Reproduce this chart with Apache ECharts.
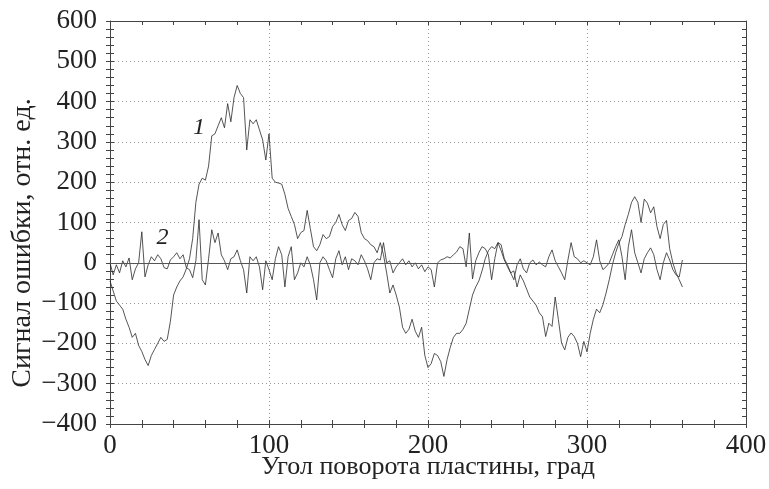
<!DOCTYPE html>
<html><head><meta charset="utf-8">
<script src="https://cdn.jsdelivr.net/npm/echarts@6/dist/echarts.min.js"></script>
<style>html,body{margin:0;padding:0;background:#fff}#c{width:769px;height:489px}</style>
</head><body><div id="c"></div>
<script>
// sampling step of the recorded angle, degrees
const angleStep = 2;
// curve 1 (large wave), one value per 2 degrees from 0 to 360
const curve1 = [
 -45,-70,-95,-105,-115,-140,-160,-185,-175,-205,
 -220,-240,-255,-230,-215,-200,-185,-195,-190,-145,
 -80,-60,-45,-35,-15,10,60,150,195,210,
 205,240,315,320,340,360,335,395,350,410,
 440,420,410,280,355,345,355,330,305,255,
 320,210,200,198,195,170,135,115,95,60,
 75,80,130,85,40,30,45,70,60,65,
 90,100,120,95,80,105,110,125,115,75,
 60,55,45,40,25,50,20,-25,-75,-55,
 -80,-110,-160,-175,-165,-140,-170,-185,-160,-230,
 -260,-250,-225,-230,-245,-282,-240,-210,-185,-175,
 -175,-165,-150,-115,-80,-60,-45,-20,10,30,
 40,35,50,45,10,-5,-25,-20,-60,-30,
 -45,-65,-85,-95,-105,-124,-134,-183,-150,-158,
 -85,-141,-199,-216,-185,-174,-183,-200,-233,-195,
 -221,-175,-140,-115,-124,-104,-75,-42,-5,25,
 48,65,95,120,150,164,150,100,158,148,
 124,139,90,60,95,105,35,0,-25,-42,
 -60
];
// curve 2 (small signal around zero)
const curve2 = [
 0,-30,-5,-25,5,-10,12,-42,-15,0,
 77,-35,-5,15,5,20,10,-12,-15,7,
 15,25,10,20,-12,-17,-37,5,107,-42,
 -55,10,82,50,74,20,5,-17,10,15,
 32,5,-17,-75,15,5,15,-10,-67,5,
 -17,-42,10,40,20,-60,15,40,-42,-25,
 0,-10,15,-5,-42,-92,0,15,5,-17,
 -37,10,30,-5,15,-17,10,5,-5,20,
 5,-15,-42,0,10,7,50,0,5,-25,
 -10,0,10,-5,5,-10,0,-15,-5,-22,
 -10,-17,-60,0,7,10,15,12,20,27,
 40,35,-10,74,-40,5,25,40,35,20,
 -42,10,50,30,7,-10,-25,-42,-5,10,
 -15,-25,0,7,-5,2,-5,-10,15,32,
 5,-10,-25,-42,7,50,15,10,0,5,
 0,-5,15,57,5,-17,-10,0,20,40,
 57,15,-42,40,82,25,0,-25,10,25,
 37,20,-17,-42,0,25,7,-17,-30,-35,
 7
];
const xRange = [0, 400];
const xStep = 100;
const yRange = [-400, 600];
const yStep = 100;
const minorStep = 20;
const xTitle = 'Угол поворота пластины, град';
const yTitle = 'Сигнал ошибки, отн. ед.';
const curveNames = ['1', '2'];

const FONT = '"Liberation Serif", "DejaVu Serif", serif';
const INK = '#222';
const AX = '#444';
const fmt = v => String(v).replace('-', '\u2212');
const pairs = arr => arr.map((v, i) => [i * angleStep, v]);

function mkAxis(kind, pos, role) {
  const isX = kind === 'x';
  const a = {
    type: 'value', position: pos,
    min: isX ? xRange[0] : yRange[0], max: isX ? xRange[1] : yRange[1],
    interval: role === 'main' ? (isX ? xStep : yStep) : minorStep,
    axisLine: { show: role === 'main' || role === 'frame', onZero: false, lineStyle: { color: AX, width: 1 } },
    axisTick: { show: role !== 'main', inside: role !== 'out', length: 4, lineStyle: { color: AX, width: 1 } },
    axisLabel: { show: false },
    splitLine: { show: false }
  };
  if (role === 'main') {
    a.axisLabel = { show: true, fontFamily: FONT, fontSize: 27, color: INK, margin: isX ? 8 : 13, formatter: fmt };
    a.splitLine = { show: true, lineStyle: { type: [1, 3], color: '#9a9a9a', width: 1 } };
    if (isX) {
      a.name = xTitle;
      a.nameLocation = 'middle';
      a.nameGap = 30;
      a.nameMoveOverlap = false;
      a.nameTextStyle = { fontFamily: FONT, fontSize: 26, color: INK };
    }
  }
  return a;
}

const chart = echarts.init(document.getElementById('c'), null, { renderer: 'canvas' });
chart.setOption({
  animation: false,
  backgroundColor: '#fff',
  grid: { left: 110, right: 23, top: 21, bottom: 65, containLabel: false, outerBoundsMode: 'none' },
  xAxis: [mkAxis('x', 'bottom', 'main'), mkAxis('x', 'bottom', 'out'), mkAxis('x', 'bottom', 'in'), mkAxis('x', 'top', 'frame')],
  yAxis: [mkAxis('y', 'left', 'main'), mkAxis('y', 'left', 'out'), mkAxis('y', 'left', 'in'), mkAxis('y', 'right', 'frame')],
  graphic: [{
    type: 'text', x: 23, y: 243, rotation: Math.PI / 2, silent: true,
    style: { text: yTitle, fontFamily: FONT, fontSize: 28, fill: INK, align: 'center', verticalAlign: 'middle' }
  }],
  series: [
    {
      name: curveNames[0], type: 'line', data: pairs(curve1), showSymbol: false, symbol: 'none',
      lineStyle: { color: '#2a2a2a', width: 0.8 }, z: 3,
      markLine: { silent: true, symbol: 'none', label: { show: false },
        lineStyle: { type: 'solid', color: '#555', width: 1 }, data: [{ yAxis: 0 }] },
      markPoint: { symbol: 'circle', symbolSize: 1, itemStyle: { color: 'rgba(0,0,0,0)' },
        label: { show: true, position: 'inside', formatter: p => p.name, fontFamily: FONT, fontSize: 24, fontStyle: 'italic', color: INK },
        data: [{ name: curveNames[0], coord: [56, 335] }] }
    },
    {
      name: curveNames[1], type: 'line', data: pairs(curve2), showSymbol: false, symbol: 'none',
      lineStyle: { color: '#2a2a2a', width: 0.8 }, z: 3,
      markPoint: { symbol: 'circle', symbolSize: 1, itemStyle: { color: 'rgba(0,0,0,0)' },
        label: { show: true, position: 'inside', formatter: p => p.name, fontFamily: FONT, fontSize: 24, fontStyle: 'italic', color: INK },
        data: [{ name: curveNames[1], coord: [33, 62] }] }
    }
  ]
});
</script></body></html>
